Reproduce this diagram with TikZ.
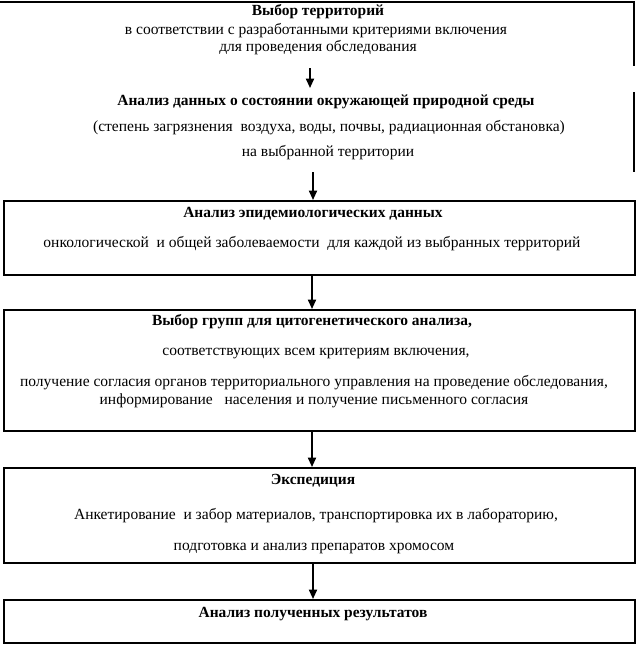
\documentclass[tikz,border=0pt]{standalone}
\usepackage{fontspec}
\setmainfont{Liberation Serif}
\usetikzlibrary{arrows.meta}
\begin{document}
\begin{tikzpicture}[x=0.75pt,y=-0.75pt,
  txt/.style={inner sep=0pt,font=\fontsize{11.65}{13}\selectfont},
  btxt/.style={inner sep=0pt,font=\fontsize{11.6}{13}\selectfont\bfseries},
  box/.style={draw,line width=1.7pt,inner sep=0pt,anchor=north west,minimum width=473.25pt},
  arr/.style={line width=1.3pt,-{Triangle[width=6pt,length=7pt]}},
  frame/.style={line width=1.1pt}]
\useasboundingbox (0,0) rectangle (636,646);
% top open frame
\draw[frame] (0,2) -- (634,2) -- (634,66);
\draw[frame] (634,92) -- (634,172);
% top text groups
\node[btxt] (t1) at (318,12) {Выбор территорий};
\node[txt] (t2) at (316,31) {в соответствии с разработанными критериями включения};
\node[txt] (t3) at (318,48) {для проведения обследования};
\node[btxt] (t4) at (326,102) {Анализ данных о состоянии окружающей природной среды};
\node[txt] (t5) at (329,128) {(степень загрязнения\ \ воздуха, воды, почвы, радиационная обстановка)};
\node[txt] (t6) at (328,153) {на выбранной территории};
% boxes
\node[box,minimum height=55.5pt] (b1) at (3,200) {};
\node[box,minimum height=90.75pt] (b2) at (3,309) {};
\node[box,minimum height=71.25pt] (b3) at (3,467) {};
\node[box,minimum height=32.25pt] (b4) at (3,599) {};
% box texts
\node[btxt] (b1a) at (313,214) {Анализ эпидемиологических данных};
\node[txt] (b1b) at (312,244) {онкологической\ \ и общей заболеваемости\ \ для каждой из выбранных территорий};
\node[btxt] (b2a) at (312,322) {Выбор групп для цитогенетического анализа,};
\node[txt] (b2b) at (316,354) {соответствующих всем критериям включения,};
\node[txt] (b2c) at (314,383) {получение согласия органов территориального управления на проведение обследования,};
\node[txt] (b2d) at (314,401) {информирование\ \ \ населения и получение письменного согласия};
\node[btxt] (b3a) at (313,481) {Экспедиция};
\node[txt] (b3b) at (316,516) {Анкетирование\ \ и забор материалов, транспортировка их в лабораторию,};
\node[txt] (b3c) at (314,548) {подготовка и анализ препаратов хромосом};
\node[btxt] (b4a) at (313,614) {Анализ полученных результатов};
% arrows
\coordinate (a1s) at (310,68);
\coordinate (a1e) at (310,88);
\coordinate (a2s) at (313,172);
\draw[arr] (a1s) -- (a1e);
\draw[arr] (a2s) -- (a2s |- b1.north);
\draw[arr] (b1.south -| 312,0) -- (b2.north -| 312,0);
\draw[arr] (b2.south -| 312,0) -- (b3.north -| 312,0);
\draw[arr] (b3.south -| 313,0) -- (b4.north -| 313,0);
\end{tikzpicture}
\end{document}
